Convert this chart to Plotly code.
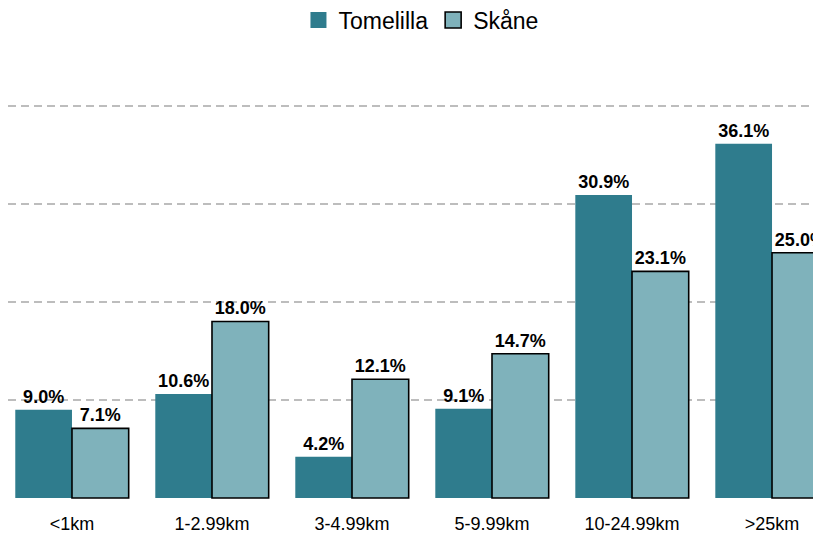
import plotly.graph_objects as go

categories = ["<1km", "1-2.99km", "3-4.99km", "5-9.99km", "10-24.99km", ">25km"]
tomelilla = [9.0, 10.6, 4.2, 9.1, 30.9, 36.1]
skane = [7.1, 18.0, 12.1, 14.7, 23.1, 25.0]
series_names = ["Tomelilla", "Skåne"]

c_dark = "#2F7C8D"
c_light = "#7FB2BB"
font_family = "Liberation Sans, Arial, sans-serif"

fig = go.Figure()
fig.add_trace(go.Bar(
    x=categories, y=tomelilla, name=series_names[0], showlegend=False,
    marker=dict(color=c_dark, line=dict(width=0)),
    text=[f"{v:.1f}%" for v in tomelilla], textposition="outside",
    textfont=dict(family=font_family, size=18, color="black", weight="bold"),
    cliponaxis=False,
))
fig.add_trace(go.Bar(
    x=categories, y=skane, name=series_names[1], showlegend=False,
    marker=dict(color=c_light, line=dict(width=1.6, color="black")),
    text=[f"{v:.1f}%" for v in skane], textposition="outside",
    textfont=dict(family=font_family, size=18, color="black", weight="bold"),
    cliponaxis=False,
))
# legend entries
fig.add_trace(go.Scatter(
    x=[None], y=[None], mode="markers", name=series_names[0],
    marker=dict(symbol="square", size=16, color=c_dark, line=dict(width=0)),
))
fig.add_trace(go.Scatter(
    x=[None], y=[None], mode="markers", name=series_names[1],
    marker=dict(symbol="square", size=16, color=c_light, line=dict(width=1.6, color="black")),
))

fig.update_layout(
    width=821, height=536,
    margin=dict(l=0, r=0, t=52, b=45, autoexpand=False),
    paper_bgcolor="white", plot_bgcolor="white",
    barmode="group", bargap=0.19, bargroupgap=0,
    font=dict(family=font_family, color="black"),
    showlegend=True,
    legend=dict(orientation="h", x=0.503, xanchor="center", y=1.091, yanchor="middle",
                yref="paper", font=dict(size=23, color="black"),
                itemsizing="trace", traceorder="normal"),
)
fig.update_xaxes(
    type="category", range=[-0.457, 5.407], showgrid=False, showline=False, zeroline=False,
    ticks="outside", ticklen=8, tickcolor="rgba(0,0,0,0)",
    tickfont=dict(size=18, color="black", family=font_family),
)
fig.update_yaxes(
    range=[-0.102, 44.65], showticklabels=False, showline=False, zeroline=False,
    showgrid=True, tick0=0, dtick=10, gridcolor="#BDBDBD", gridwidth=1.5, griddash="8px,5px",
)

fig.write_html("out.html")
